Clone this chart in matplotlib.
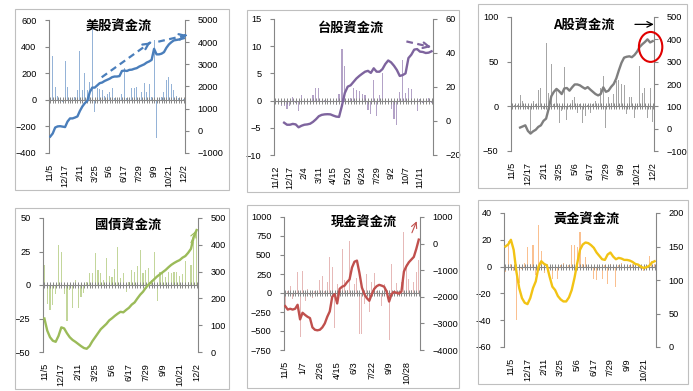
import matplotlib.pyplot as plt
import numpy as np
from matplotlib.patches import Rectangle, Ellipse

plt.rcParams['font.family'] = ['Liberation Sans', 'DejaVu Sans']

W, H = 693, 391
nan = np.nan

# ---- data ----
us_bars = [15, 330, 95, 25, 10, -20, 295, 95, 15, 10, 20, 70, 365, 70, 205, 75, 135, 540, -90, 90,
           80, 75, 30, 45, 60, 90, 10, 75, -15, 40, 240, 15, 5, 85, 90, 95, 10, 60, 130, 55,
           120, 20, 450, -290, 10, 20, 55, 150, 175, 120, 70, 25, 10, 15, 5]
us_line = [-260, -120, 150, 200, 210, 190, 170, 420, 560, 560, 600, 650, 900, 1100, 1250, 1350, 1750, 1950,
           1950, 2050, 2150, 2180, 2250, 2300, 2350, 2420, 2450, 2450, 2470, 2700, 2720, 2700, 2750, 2760,
           2800, 2830, 2900, 2950, 3000, 3080, 3130, 3200, 3700, 3450, 3450, 3480, 3550, 3750, 3900, 4000,
           4080, 4100, 4120, 4150, 4180]
us_labels = ['11/5', '12/17', '2/11', '3/25', '5/6', '6/17', '7/29', '9/9', '10/21', '12/2']

tw_bars = [-0.3, -0.5, -1.0, -1.0, -1.5, -1.0, 0.6, -0.4, -2.0, 1.0, -0.3, 0.3, -0.4, 1.0, 2.4, 2.4,
           -0.3, 0.2, -0.3, 0.3, -0.4, -0.8, 1.2, 9.4, 6.3, -0.3, 0.4, 2.3, 2.0, 1.7, 1.3, 1.0, -1.7,
           -2.5, 3.8, -2.8, 1.0, 5.0, 0.3, -0.5, -1.5, -3.3, -4.4, 1.5, 7.5, 1.4, 2.3, 2.2, -0.4, -2.0,
           0.3, -0.5, -0.3, 0.4, -0.5]
tw_line = [nan, nan, nan, -1.0, -2.2, -2.2, -1.7, -2.0, -3.7, -2.8, -2.2, -2.0, -1.6, -0.5, 1.0, 2.8,
           3.6, 3.9, 4.0, 3.9, 3.2, 2.6, 2.4, 9.0, 16.5, 20.2, 21.0, 23.0, 25.0, 26.5, 27.8, 29.0, 29.5,
           28.3, 31.0, 29.0, 29.0, 30.5, 33.5, 35.6, 34.5, 32.5, 30.0, 26.5, 27.0, 28.0, 37.0, 39.0, 42.0,
           42.3, 40.8, 40.6, 40.0, 40.2, 41.0]
tw_labels = ['11/12', '12/17', '2/4', '3/11', '4/15', '5/20', '6/24', '7/29', '9/2', '10/7', '11/11']

a_bars = [0, 1, 2, 13, 5.6, 2.6, -3, -30, 5.6, 3, 18, 21, -3, 71, 15, 47, 3, 20, -19, -5, 44, -15, 2,
          7, 11, -7, 3, -19, -11, 2, -7, 3, 6, -3, 20, 34, -24, 11, 4, 14, 28, 30, 25, 24, -9, 11, 11,
          -13, 3, 45, 15, 20, -13, 21, -18]
a_line = [nan, nan, nan, 5, 10, 15, -10, -22, -12, -5, 8, 15, 35, 45, 90, 145, 165, 178, 168, 155, 180,
          182, 170, 185, 198, 198, 194, 186, 179, 186, 175, 165, 155, 149, 155, 185, 165, 170, 187, 200,
          225, 262, 295, 318, 322, 324, 320, 330, 345, 366, 378, 388, 400, 386, 392]

bond_bars = [15, -14, -19, -15, -7, 30, 25, -7, -27, -4, -17, 4, -17, -9, -6, 2, 9, 9, 24, 11, 9, 4,
             20, 7, 6, 12, 28, 5, 9, -5, 2, 11, 10, 14, 26, 9, 11, 13, 4, 25, -12, 10, 10, 6, 10, 9,
             10, 10, 7, 8, 18, 2, 15, 32, 40]
bond_line = [125, 80, 55, 42, 38, 60, 92, 88, 70, 55, 45, 38, 30, 22, 15, 12, 22, 40, 55, 70, 85, 95,
             105, 118, 126, 135, 143, 150, 148, 157, 165, 177, 185, 200, 214, 225, 240, 252, 262, 272,
             282, 290, 298, 306, 316, 325, 332, 338, 343, 352, 358, 370, 385, 430, 455]

cash_bars = [-160, 20, 87, -80, 30, 280, -577, 290, -100, 56, -20, -60, 20, -30, 170, 230, 20, 150,
             480, 340, -460, 120, 30, 580, 170, 40, 690, 30, 120, 200, -540, -540, -140, 250, -250,
             145, 257, 20, 30, -170, 120, 20, -620, 380, 40, 130, 30, 150, 800, 385, 190, 40, 150,
             270, 430]
cash_line = [-2350, -2480, -2450, -2480, -2450, -2300, -2850, -2600, -2680, -2750, -2800, -3150, -3240,
             -3260, -3240, -3150, -3000, -2750, -2550, -2000, -1900, -2250, -1700, -1620, -1580, -1450,
             -1350, -900, -680, -640, -1100, -1650, -1900, -2050, -2150, -1900, -1700, -1600, -1550,
             -1580, -1620, -1800, -2180, -1900, -1820, -1850, -1880, -1800, -1050, -850, -700, -600,
             -500, -200, 150]
cash_labels = ['11/5', '1/7', '2/26', '4/15', '6/3', '7/22', '9/9', '10/28']

gold_bars = [-4, 19, 2, -3, -40, -12, -2, 3, 15, 2, 16, -6, 31, 12, -5, 1, -2, -9, -3, -9, 1, 2.5, -2,
             1, 16, 16, 15, 26, 2, 7, 1, -2, -9, -10, -2, -9, 1, -13, 2, -2, -15, 1, 3, 1, -1, 1, 2, 1,
             -1, -2, -3, 1, 8, 4, 2]
gold_line = [150, 153, 160, 145, 112, 88, 73, 66, 64, 73, 88, 98, 120, 128, 124, 122, 105, 90, 85, 76,
             71, 68, 68, 74, 85, 103, 125, 145, 153, 156, 155, 152, 148, 141, 136, 131, 130, 138, 141,
             135, 131, 133, 132, 130, 130, 129, 127, 124, 123, 120, 118, 119, 121, 126, 128]
gold_labels = ['11/5', '12/17', '2/11', '3/25', '5/6', '6/17', '7/29', '9/9', '10/21']

fig = plt.figure(figsize=(W / 100, H / 100), dpi=100)

def fx(px):
    return px / W

def fy(py):
    return 1 - py / H

# panel frames
for x0, y0, x1, y1 in [(15, 9, 229, 190), (247, 10, 459, 192), (478, 4, 687, 188),
                       (15, 208, 229, 389), (247, 205, 459, 388), (478, 200, 688, 384)]:
    fig.patches.append(Rectangle((fx(x0), fy(y1)), fx(x1 - x0), (y1 - y0) / H, transform=fig.transFigure,
                                 fill=False, ec='#BFBFBF', lw=0.8))

GRAY = '#868686'

def panel(box, title, tpos, bars, line, labels, lstep, lstart, lt, rt, bc, lc):
    x0, y0, x1, y1 = box
    ax = fig.add_axes([fx(x0), fy(y1), fx(x1 - x0), (y1 - y0) / H])
    ax2 = ax.twinx()
    n = len(bars)
    x = np.arange(n)
    ax.bar(x, bars, width=0.4, color=bc, zorder=2)
    ax.plot(x, np.zeros(n), color=GRAY, lw=0.8, marker='|', ms=4, mew=0.7, zorder=3)
    ax2.plot(x, line, color=lc, lw=1.7, zorder=4)
    ax.set_xlim(-0.5, n - 0.5)
    ax.set_ylim(lt[0], lt[-1])
    ax.set_yticks(lt)
    ax2.set_ylim(rt[0], rt[-1])
    ax2.set_yticks(rt)
    ax.set_xticks(np.arange(len(labels)) * lstep + lstart)
    ax.set_xticklabels(labels, rotation=90, fontsize=6.6)
    ax.tick_params(axis='x', length=0, pad=8)
    ax.tick_params(axis='y', labelsize=6.6, length=3, pad=6, color=GRAY)
    ax2.tick_params(axis='y', labelsize=6.6, length=3, pad=6, color=GRAY)
    for a in (ax, ax2):
        for s in ('top', 'bottom'):
            a.spines[s].set_visible(False)
        a.spines['left'].set_color(GRAY)
        a.spines['right'].set_color(GRAY)
    ax.spines['right'].set_visible(False)
    ax2.spines['left'].set_visible(False)
    fig.text(fx(tpos[0]), fy(tpos[1]), title, ha='center', va='center', fontsize=9.5,
             fontweight='bold', family=['Noto Sans CJK TC', 'DejaVu Sans'])
    return ax, ax2

ax, a2 = panel((49, 20, 185, 153), '美股資金流', (119, 27), us_bars, us_line, us_labels, 6, 0,
               [-400, -200, 0, 200, 400, 600], [-1000, 0, 1000, 2000, 3000, 4000, 5000], '#95B3D7', '#4A7EBB')
a2.plot([20.8, 40.5], [2415, 3990], ls='--', color='#4A7EBB', lw=1.6, dashes=(3, 2))
a2.annotate('', xy=(41.5, 4060), xytext=(39.5, 3910), arrowprops=dict(arrowstyle='->', color='#4A7EBB', lw=1.6))
a2.plot([43.7, 54.5], [4022, 4300], ls='--', color='#4A7EBB', lw=1.6, dashes=(3, 2), clip_on=False)
a2.annotate('', xy=(55.3, 4323), xytext=(53.5, 4275), annotation_clip=False,
            arrowprops=dict(arrowstyle='->', color='#4A7EBB', lw=1.6))

ax, a2 = panel((274, 19, 433, 155), '台股資金流', (351, 28), tw_bars, tw_line, tw_labels, 5, 0,
               [-10, -5, 0, 5, 10, 15], [-20, 0, 20, 40, 60], '#B3A2C7', '#7E649E')
a2.plot([45.3, 52.5], [46.8, 44.0], ls='--', color='#7E649E', lw=1.6, dashes=(3, 2))
a2.annotate('', xy=(53.8, 43.5), xytext=(52.0, 44.2), annotation_clip=False,
            arrowprops=dict(arrowstyle='->', color='#7E649E', lw=1.6))

ax, a2 = panel((511, 17, 654, 151), 'A股資金流', (584, 25), a_bars, a_line, us_labels, 6, 0,
               [-50, 0, 50, 100], [-100, 0, 100, 200, 300, 400, 500], '#A6A6A6', '#7F7F7F')
a2.annotate('', xy=(55.5, 467), xytext=(46.1, 467), annotation_clip=False,
            arrowprops=dict(arrowstyle='->', color='black', lw=0.9))
a2.add_patch(Ellipse((53.2, 366), 9, 134, fill=False, ec='#E00000', lw=1.5, clip_on=False, zorder=6))

ax, a2 = panel((43, 218, 198, 352), '國債資金流', (128, 225), bond_bars, bond_line, us_labels, 6, 0,
               [-50, -25, 0, 25, 50], [0, 100, 200, 300, 400, 500], '#C3D69B', '#9BBB59')
a2.annotate('', xy=(54.2, 462), xytext=(51.6, 398), annotation_clip=False,
            arrowprops=dict(arrowstyle='->', color='#9BBB59', lw=0.8))

ax, a2 = panel((284, 217, 420, 350), '現金資金流', (364, 222), cash_bars, cash_line, cash_labels, 7, 0,
               [-750, -500, -250, 0, 250, 500, 750, 1000], [-4000, -3000, -2000, -1000, 0, 1000],
               '#E6B9B8', '#C0504D')
a2.annotate('', xy=(53.6, 937), xytext=(50.8, 312), annotation_clip=False,
            arrowprops=dict(arrowstyle='->', color='#C0504D', lw=0.8))

ax, a2 = panel((504, 213, 656, 347), '黃金資金流', (587, 219), gold_bars, gold_line, gold_labels, 6, 2,
               [-60, -40, -20, 0, 20, 40], [0, 50, 100, 150, 200], '#FAC090', '#F2C314')

fig.savefig('out.png', dpi=100)
